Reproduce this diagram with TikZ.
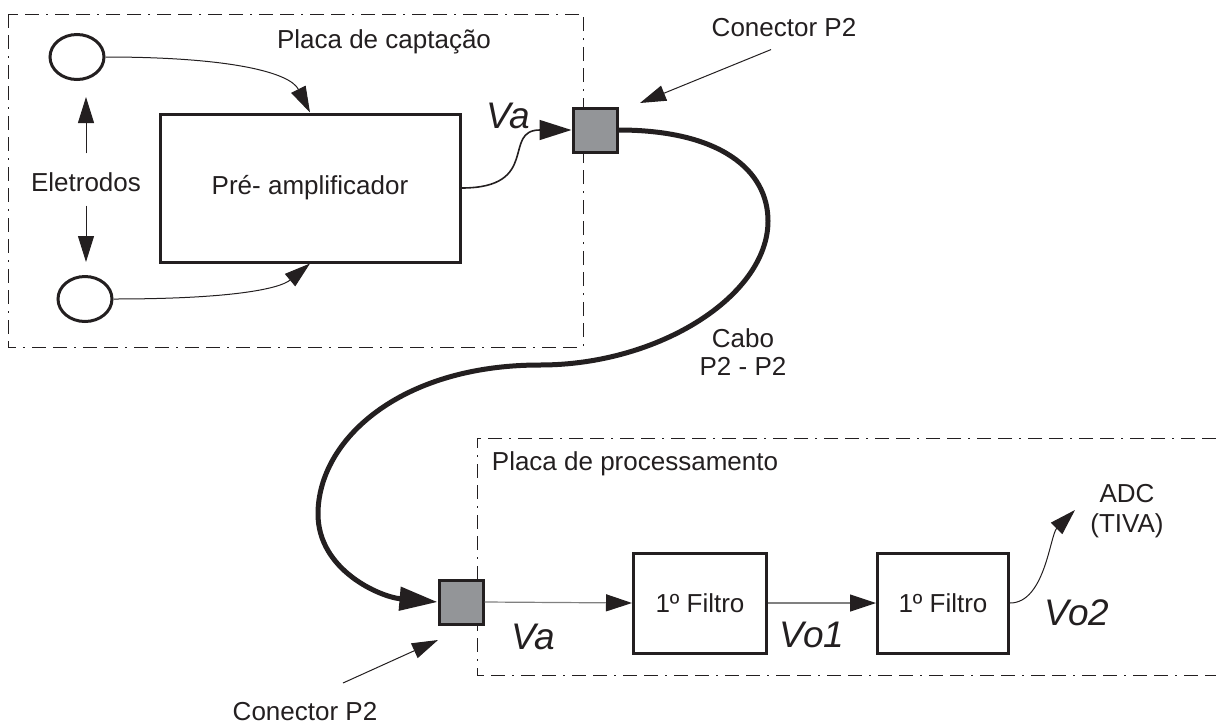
\documentclass[tikz,border=0pt]{standalone}
\usepackage{fontspec}
\setmainfont{Liberation Sans}
\usepackage{xcolor}
\usepackage{tikz}
\usetikzlibrary{positioning,arrows.meta,shapes.geometric,calc}
\definecolor{InkDark}{HTML}{231F20}
\definecolor{PlugGray}{HTML}{939598}
\definecolor{WireGray}{HTML}{808080}

\begin{document}
\begin{tikzpicture}[x=0.5pt,y=-0.5pt,
        every node/.style={font=\fontsize{13}{14}\selectfont, text=InkDark},
        tip/.style={-{Triangle[length=13pt,width=8pt]}},
        board/.style={draw=InkDark, line width=0.5pt,
          dash pattern=on 7pt off 3.5pt on 7pt off 3.5pt on 1pt off 3.5pt},
        block/.style={draw=InkDark, line width=1.5pt, inner sep=0pt},
        plug/.style={draw=InkDark, fill=PlugGray, line width=1.5pt,
          minimum size=22pt, inner sep=0pt},
        electrode/.style={ellipse, draw=InkDark, line width=1.5pt,
          minimum width=27pt, minimum height=22.5pt, inner sep=0pt},
        volt/.style={font=\fontsize{18.5}{21}\selectfont\itshape},
        wire/.style={draw=InkDark, line width=0.5pt}
      ]
        \useasboundingbox (0,0) rectangle (1216,724);

        % placas
        \draw[board] (8,14) rectangle (583,347);
        \draw[board] (1216,438) -- (477,438) -- (477,675) -- (1216,675);

        % placa de captacao
        \node[electrode] (eltop) at (77,57) {};
        \node[electrode] (elbot) at (85,299) {};
        \node (eletr) at (86,182) {Eletrodos};
        \node[block, minimum width=150pt, minimum height=74pt] (preamp)
        at (310,188) {Pré- amplificador};
        \node (captlbl) at (384,42) {Placa de captação};
        \node[volt] (va1) at (508,116) {Va};
        \node[plug] (con1) at (595,130) {};
        \node (con1lbl) at (784,28) {Conector P2};
        \coordinate (c1tip) at (640,103);

        % cabo
        \node[align=center] (cabo) at (743,352) {Cabo\\P2 - P2};

        % placa de processamento
        \node (proclbl) at (635,464) {Placa de processamento};
        \node[plug] (con2) at (461,602) {};
        \node (con2lbl) at (305,712) {Conector P2};
        \coordinate (c2tail) at (343,683);
        \coordinate (c2tip) at (438,640);
        \node[block, minimum width=66.5pt, minimum height=50pt] (filt1)
        at (700,603) {1º Filtro};
        \node[block, minimum width=65.5pt, minimum height=50pt] (filt2)
        at (943,603) {1º Filtro};
        \node[volt] (va2) at (533,637) {Va};
        \node[volt] (vo1) at (812,635) {Vo1};
        \node[volt] (vo2) at (1077,613) {Vo2};
        \node[align=center, font=\fontsize{13}{15}\selectfont] (adc)
        at (1127,511) {ADC\\(TIVA)};
        \coordinate (adctip) at (1075,510);

        % ligacoes
        \draw[wire, tip, shorten <=6pt, shorten >=8pt]
        (eletr.north) -- (eletr.north |- eltop.south);
        \draw[wire, tip, shorten <=3.5pt, shorten >=6.5pt]
        (eletr.south) -- (eletr.south |- elbot.north);
        \draw[wire, tip] (eltop.east) .. controls +(125,0) and +(-20,-40) .. (preamp.north);
        \draw[wire, tip] (elbot.east) .. controls +(120,0) and +(-30,25) .. (preamp.south);
        \draw[wire, line width=0.8pt, -{Triangle[length=16pt,width=10pt]}]
        (preamp.east) .. controls +(80,0) and +(-70,0) .. (con1.west);
        \draw[wire, tip, shorten <=7pt] (con1lbl.south) -- (c1tip);
        \draw[wire, tip] (c2tail) -- (c2tip);
        \draw[draw=InkDark, line width=2.5pt, -{Triangle[length=19pt,width=11.5pt]}]
        (con1.east) .. controls (720,130) and (768,170) .. (768,221)
        .. controls (768,295) and (660,365) .. (540,365)
        .. controls (400,365) and (318,440) .. (318,514)
        .. controls (318,570) and (380,597) .. (con2.west);
        \draw[draw=WireGray, line width=0.6pt, -{Triangle[length=13pt,width=8.5pt,color=InkDark]}]
        (con2.east) -- (filt1.west);
        \draw[draw=WireGray, line width=0.6pt, -{Triangle[length=13pt,width=8.5pt,color=InkDark]}]
        (filt1.east) -- (filt2.west);
        \draw[wire, tip] (filt2.east) .. controls +(35,0) and +(-25,25) .. (adctip);
      \end{tikzpicture}
\end{document}
